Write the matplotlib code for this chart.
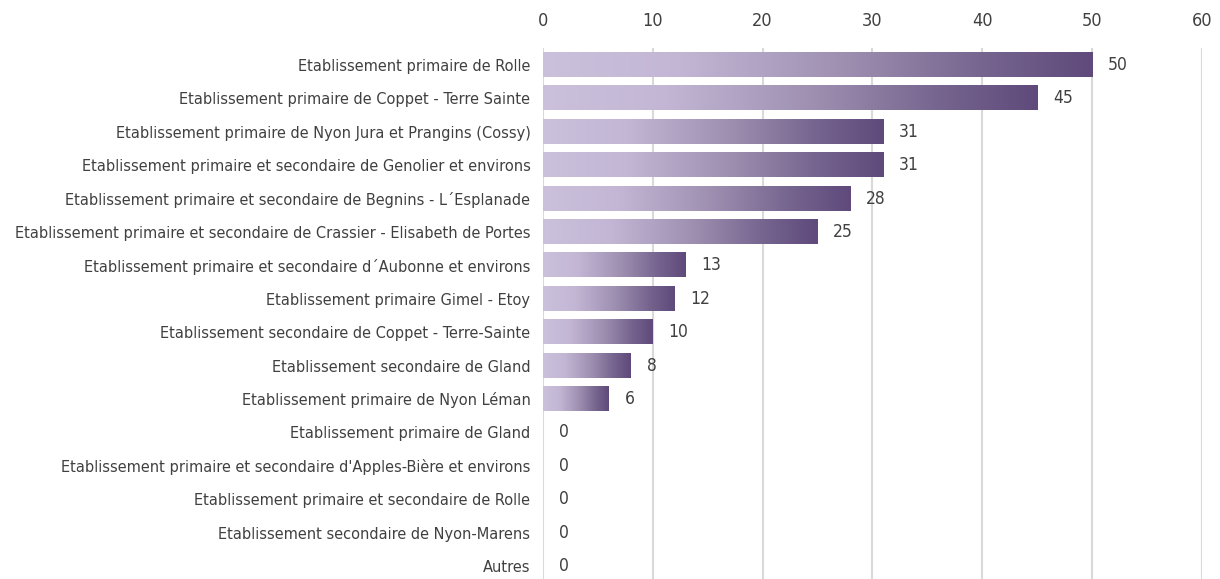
import matplotlib
matplotlib.use("Agg")
import matplotlib.pyplot as plt
from matplotlib import font_manager
from matplotlib.colors import LinearSegmentedColormap
import numpy as np

categories = [
    "Etablissement primaire de Rolle",
    "Etablissement primaire de Coppet - Terre Sainte",
    "Etablissement primaire de Nyon Jura et Prangins (Cossy)",
    "Etablissement primaire et secondaire de Genolier et environs",
    "Etablissement primaire et secondaire de Begnins - L´Esplanade",
    "Etablissement primaire et secondaire de Crassier - Elisabeth de Portes",
    "Etablissement primaire et secondaire d´Aubonne et environs",
    "Etablissement primaire Gimel - Etoy",
    "Etablissement secondaire de Coppet - Terre-Sainte",
    "Etablissement secondaire de Gland",
    "Etablissement primaire de Nyon Léman",
    "Etablissement primaire de Gland",
    "Etablissement primaire et secondaire d'Apples-Bière et environs",
    "Etablissement primaire et secondaire de Rolle",
    "Etablissement secondaire de Nyon-Marens",
    "Autres",
]
values = [50, 45, 31, 31, 28, 25, 13, 12, 10, 8, 6, 0, 0, 0, 0, 0]
xticks = [0, 10, 20, 30, 40, 50, 60]

names = {f.name for f in font_manager.fontManager.ttflist}
stretch = "normal"
if "Liberation Sans Narrow" in names:
    fam = "Liberation Sans Narrow"
else:
    fam = "DejaVu Sans"
    stretch = "condensed"
plt.rcParams["font.family"] = [fam, "DejaVu Sans"]

text_color = "#404040"
cmap = LinearSegmentedColormap.from_list(
    "grad", [(0.0, "#cbc1dc"), (0.25, "#c2b6d4"), (0.55, "#9e8fb1"), (0.8, "#76658f"), (1.0, "#5f4a7b")]
)

fig = plt.figure(figsize=(12.2, 5.79), dpi=100)
ax = fig.add_axes([0.445, -0.0064, 0.54, 0.923])

n = len(categories)
ypos = np.arange(n)
bar_h = 0.72
grad = np.linspace(0, 1, 256).reshape(1, -1)
for y, v in zip(ypos, values):
    if v > 0:
        ax.imshow(grad, cmap=cmap, aspect="auto",
                  extent=[0, v, y + bar_h / 2, y - bar_h / 2], zorder=2,
                  interpolation="bicubic")
    ax.annotate(str(v), xy=(v, y), xytext=(11.5, 0), textcoords="offset points",
                va="center", ha="left", fontsize=12.5, color=text_color,
                fontstretch=stretch)

ax.set_xlim(0, 60)
ax.set_ylim(n - 0.5, -0.5)
ax.set_xticks(xticks)
ax.set_yticks(ypos)
ax.set_yticklabels(categories)
ax.xaxis.tick_top()
ax.tick_params(axis="x", length=0, pad=13, labelsize=13, labelcolor=text_color)
ax.tick_params(axis="y", length=0, pad=9, labelsize=11.7, labelcolor=text_color)
for lab in ax.get_xticklabels() + ax.get_yticklabels():
    lab.set_fontstretch(stretch)
ax.grid(axis="x", color="#d9d9d9", linewidth=1.5, zorder=0)
ax.set_axisbelow(True)
for s in ax.spines.values():
    s.set_visible(False)

fig.savefig("out.png", dpi=100)
